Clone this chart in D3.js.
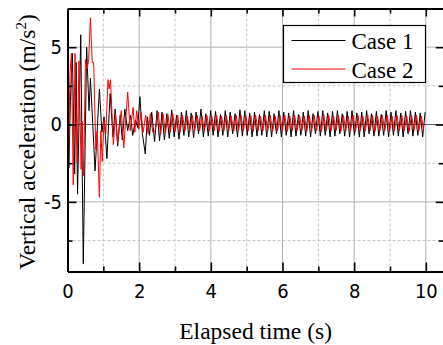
<!DOCTYPE html>
<html>
<head>
<meta charset="utf-8">
<script src="https://cdn.jsdelivr.net/npm/d3@7/dist/d3.min.js"></script>
<style>
  html, body { margin: 0; padding: 0; background: #fff; }
  svg { display: block; }
  .tick text { font-family: "DejaVu Sans Condensed", "DejaVu Sans", sans-serif; font-stretch: condensed; font-size: 20px; fill: #000; }
  .serif { font-family: "Liberation Serif", "Times New Roman", serif; fill: #000; }
</style>
</head>
<body>
<svg id="chart" width="443" height="345"></svg>
<script>
// ---- data -------------------------------------------------------------
const seriesNames = ["Case 1", "Case 2"];
const seriesColors = ["#000000", "#ff0000"];

// transient response (irregular turning points), time in s, acceleration in m/s²
const case1EarlyTime = [0, 0.04, 0.08, 0.135, 0.2, 0.24, 0.28, 0.37, 0.44, 0.535, 0.6, 0.64, 0.77, 0.89, 0.96, 1.02, 1.1, 1.19, 1.27, 1.33, 1.4, 1.47, 1.53, 1.6, 1.68, 1.76, 1.82, 1.9, 1.96, 2.02, 2.09, 2.17, 2.23, 2.29, 2.35, 2.43];
const case1EarlyAcc  = [0, -2.8, 1.5, 4.6, -3.2, 4.0, -4.5, 5.8, -9.0, 5.0, 0.9, 3.0, -3.0, 2.3, -0.5, 0.5, -2.2, 2.0, -0.8, 1.0, -1.4, 0.6, -1.0, 1.0, -0.4, 0.6, -0.7, 0.3, -0.2, 1.8, -0.6, -1.9, 0.5, -0.7, 0.8, -1.1];

const case2EarlyTime = [0, 0.02, 0.07, 0.11, 0.16, 0.21, 0.27, 0.32, 0.38, 0.41, 0.45, 0.5, 0.55, 0.59, 0.64, 0.69, 0.73, 0.79, 0.83, 0.89, 0.93, 0.97, 1.02, 1.07, 1.13, 1.16, 1.2, 1.28, 1.34, 1.4, 1.5, 1.57, 1.68, 1.75, 1.83, 1.88, 1.93, 1.99, 2.05, 2.11, 2.18, 2.25, 2.31, 2.38, 2.45];
const case2EarlyAcc  = [0, -3.7, 3.3, 4.6, -3.9, 4.6, -2.5, 4.1, -2.9, 0.2, -3.3, 4.2, 3.6, 4.2, 6.9, 4.0, 4.0, -1.6, -0.4, -4.7, -0.4, -2.4, 0.3, -0.6, 2.9, 2.3, 2.9, -1.3, 0.7, -1.2, 0.9, -1.5, 2.1, -0.4, 1.1, -0.5, 0.9, -0.3, 0.8, -0.5, 0.6, -0.6, 0.7, -0.5, -0.4];

// steady-state oscillation, peaks and troughs recorded every half cycle
const halfCycle = 0.068;
const case1SteadyStart = 2.5;
const case1Steady = [
  0.9, -1.05, 0.8, -1.0, 0.7, -0.9, 0.95, -0.8, 0.6, -0.95,
  0.8, -0.7, 0.9, -0.8, 0.75, -0.85, 0.8, -0.6, 1.0, -0.8,
  0.7, -0.75, 0.9, -0.7, 0.85, -0.8, 0.65, -0.7, 0.9, -0.8,
  0.8, -0.6, 0.7, -0.8, 0.95, -0.75, 0.9, -0.7, 0.75, -0.8,
  0.8, -0.75, 0.65, -0.7, 0.9, -0.8, 0.85, -0.8, 0.7, -0.6,
  0.9, -0.8, 0.8, -0.7, 0.75, -0.8, 0.9, -0.75, 0.65, -0.7,
  0.8, -0.75, 0.9, -0.8, 0.7, -0.6, 0.85, -0.75, 0.9, -0.7,
  0.75, -0.8, 0.85, -0.75, 0.9, -0.6, 0.7, -0.75, 0.85, -0.8,
  0.9, -0.7, 0.75, -0.8, 0.8, -0.8, 0.9, -0.6, 0.7, -0.75,
  0.85, -0.75, 0.65, -0.7, 0.9, -0.8, 0.8, -0.7, 0.9, -0.75,
  0.75, -0.8, 0.85, -0.6, 0.9, -0.75, 0.8, -0.7, 0.75, -0.8,
  0.8
];
const case2SteadyStart = 2.53;
const case2Steady = [
  0.8, -0.65, 0.7, -0.55, 0.65, -0.5, 0.7, -0.45, 0.6, -0.5,
  0.6, -0.4, 0.55, -0.45, 0.6, -0.4, 0.6, -0.4, 0.55, -0.45,
  0.6, -0.4, 0.55, -0.4, 0.6, -0.45, 0.55, -0.4, 0.6, -0.4,
  0.55, -0.45, 0.6, -0.4, 0.6, -0.4, 0.55, -0.4, 0.6, -0.45,
  0.6, -0.4, 0.55, -0.4, 0.6, -0.4, 0.6, -0.45, 0.55, -0.4,
  0.6, -0.4, 0.6, -0.45, 0.55, -0.4, 0.6, -0.4, 0.6, -0.4,
  0.55, -0.45, 0.6, -0.4, 0.6, -0.4, 0.55, -0.45, 0.6, -0.4,
  0.6, -0.4, 0.55, -0.4, 0.6, -0.45, 0.6, -0.4, 0.55, -0.4,
  0.6, -0.45, 0.6, -0.4, 0.55, -0.4, 0.6, -0.4, 0.6, -0.45,
  0.55, -0.4, 0.6, -0.4, 0.6, -0.45, 0.55, -0.4, 0.6, -0.4,
  0.6, -0.4, 0.55, -0.45, 0.6, -0.4, 0.6, -0.4, 0.55, -0.4
];

// axes
const xMajorTicks = [0, 2, 4, 6, 8, 10];
const xMinorTicks = [1, 3, 5, 7, 9];
const yMajorTicks = [-5, 0, 5];
const yMinorTicks = [-7.5, -2.5, 2.5];
const xLabel = "Elapsed time (s)";
const yLabel = "Vertical acceleration (m/s";

// ---- layout -----------------------------------------------------------
const svg = d3.select("#chart");
const plot = { left: 67.5, right: 443.75, top: 8.5, bottom: 271.5 };

const x = d3.scaleLinear().domain([0, 10.5]).range([plot.left, plot.right]);
const y = d3.scaleLinear().domain([-9.5, 7.5]).range([plot.bottom, plot.top]);

// ---- grid -------------------------------------------------------------
const grid = svg.append("g");
grid.selectAll(".vmaj").data(xMajorTicks.filter(d => d > 0)).join("line")
  .attr("x1", d => x(d)).attr("x2", d => x(d))
  .attr("y1", plot.top).attr("y2", plot.bottom)
  .attr("stroke", "#b2b2b2").attr("stroke-width", 1);
grid.selectAll(".vmin").data(xMinorTicks).join("line")
  .attr("x1", d => x(d)).attr("x2", d => x(d))
  .attr("y1", plot.top).attr("y2", plot.bottom)
  .attr("stroke", "#c4c4c4").attr("stroke-width", 1).attr("stroke-dasharray", "3,2");
grid.selectAll(".hmaj").data(yMajorTicks).join("line")
  .attr("x1", plot.left).attr("x2", plot.right)
  .attr("y1", d => y(d)).attr("y2", d => y(d))
  .attr("stroke", d => d === 0 ? "#5a5a5a" : "#b2b2b2").attr("stroke-width", 1);
grid.selectAll(".hmin").data(yMinorTicks).join("line")
  .attr("x1", plot.left).attr("x2", plot.right)
  .attr("y1", d => y(d)).attr("y2", d => y(d))
  .attr("stroke", "#c4c4c4").attr("stroke-width", 1).attr("stroke-dasharray", "3,2");

// ---- series -----------------------------------------------------------
function buildSeries(earlyT, earlyV, start, steady) {
  const pts = earlyT.map((t, i) => [t, earlyV[i]]);
  steady.forEach((v, i) => pts.push([start + i * halfCycle, v]));
  return pts;
}
const series = [
  buildSeries(case1EarlyTime, case1EarlyAcc, case1SteadyStart, case1Steady),
  buildSeries(case2EarlyTime, case2EarlyAcc, case2SteadyStart, case2Steady)
];

svg.append("clipPath").attr("id", "clip").append("rect")
  .attr("x", plot.left).attr("y", plot.top)
  .attr("width", plot.right - plot.left).attr("height", plot.bottom - plot.top);

const line = d3.line().x(d => x(d[0])).y(d => y(d[1]));
svg.append("g").attr("clip-path", "url(#clip)")
  .selectAll("path").data(series).join("path")
  .attr("d", line)
  .attr("fill", "none")
  .attr("stroke", (d, i) => seriesColors[i])
  .attr("stroke-width", 1)
  .attr("stroke-linejoin", "miter");

// ---- axes -------------------------------------------------------------
function styleAxis(g) {
  g.select(".domain").attr("stroke", "#000").attr("stroke-width", 2);
  g.selectAll(".tick line").attr("stroke", "#000").attr("stroke-width", 1.6);
}
const bottomG = svg.append("g").attr("transform", `translate(0,${plot.bottom})`);
bottomG.call(d3.axisBottom(x).tickValues(xMinorTicks).tickSize(-5).tickFormat("").tickSizeOuter(0)).call(styleAxis);
bottomG.append("g").call(d3.axisBottom(x).tickValues(xMajorTicks).tickSize(-9).tickPadding(12).tickSizeOuter(0)).call(styleAxis);

const topG = svg.append("g").attr("transform", `translate(0,${plot.top})`);
topG.call(d3.axisTop(x).tickValues(xMinorTicks).tickSize(-5).tickFormat("").tickSizeOuter(0)).call(styleAxis);
topG.append("g").call(d3.axisTop(x).tickValues(xMajorTicks).tickSize(-8).tickFormat("").tickSizeOuter(0)).call(styleAxis);

const leftG = svg.append("g").attr("transform", `translate(${plot.left},0)`);
leftG.call(d3.axisLeft(y).tickValues(yMinorTicks).tickSize(-5).tickFormat("").tickSizeOuter(0)).call(styleAxis);
leftG.append("g").call(d3.axisLeft(y).tickValues(yMajorTicks).tickSize(-9).tickPadding(5.5).tickSizeOuter(0)
  .tickFormat(d => d < 0 ? "-" + Math.abs(d) : d)).call(styleAxis);

const rightG = svg.append("g").attr("transform", `translate(${plot.right},0)`);
rightG.call(d3.axisRight(y).tickValues(yMinorTicks).tickSize(-5).tickFormat("").tickSizeOuter(0)).call(styleAxis);
rightG.append("g").call(d3.axisRight(y).tickValues(yMajorTicks).tickSize(-8).tickFormat("").tickSizeOuter(0)).call(styleAxis);

// ---- titles -----------------------------------------------------------
svg.append("text").attr("class", "serif")
  .attr("x", (plot.left + plot.right) / 2).attr("y", 339)
  .attr("text-anchor", "middle").attr("font-size", 23.5)
  .text(xLabel);

const yt = svg.append("text").attr("class", "serif")
  .attr("transform", `translate(35,${142}) rotate(-90)`)
  .attr("text-anchor", "middle").attr("font-size", 23.5);
yt.append("tspan").text(yLabel);
yt.append("tspan").attr("font-size", 15).attr("dy", -9).text("2");
yt.append("tspan").attr("dy", 9).text(")");

// ---- legend -----------------------------------------------------------
const legend = svg.append("g");
legend.append("rect")
  .attr("x", 283.5).attr("y", 25.5).attr("width", 142).attr("height", 57)
  .attr("fill", "#fff").attr("stroke", "#000").attr("stroke-width", 1.2);
seriesNames.forEach((name, i) => {
  const cy = 40.5 + i * 28.5;
  legend.append("line")
    .attr("x1", 291.5).attr("x2", 345.5).attr("y1", cy).attr("y2", cy)
    .attr("stroke", seriesColors[i]).attr("stroke-width", 1);
  legend.append("text").attr("class", "serif")
    .attr("x", 351.5).attr("y", cy + 8.5).attr("font-size", 23)
    .text(name);
});
</script>
</body>
</html>
